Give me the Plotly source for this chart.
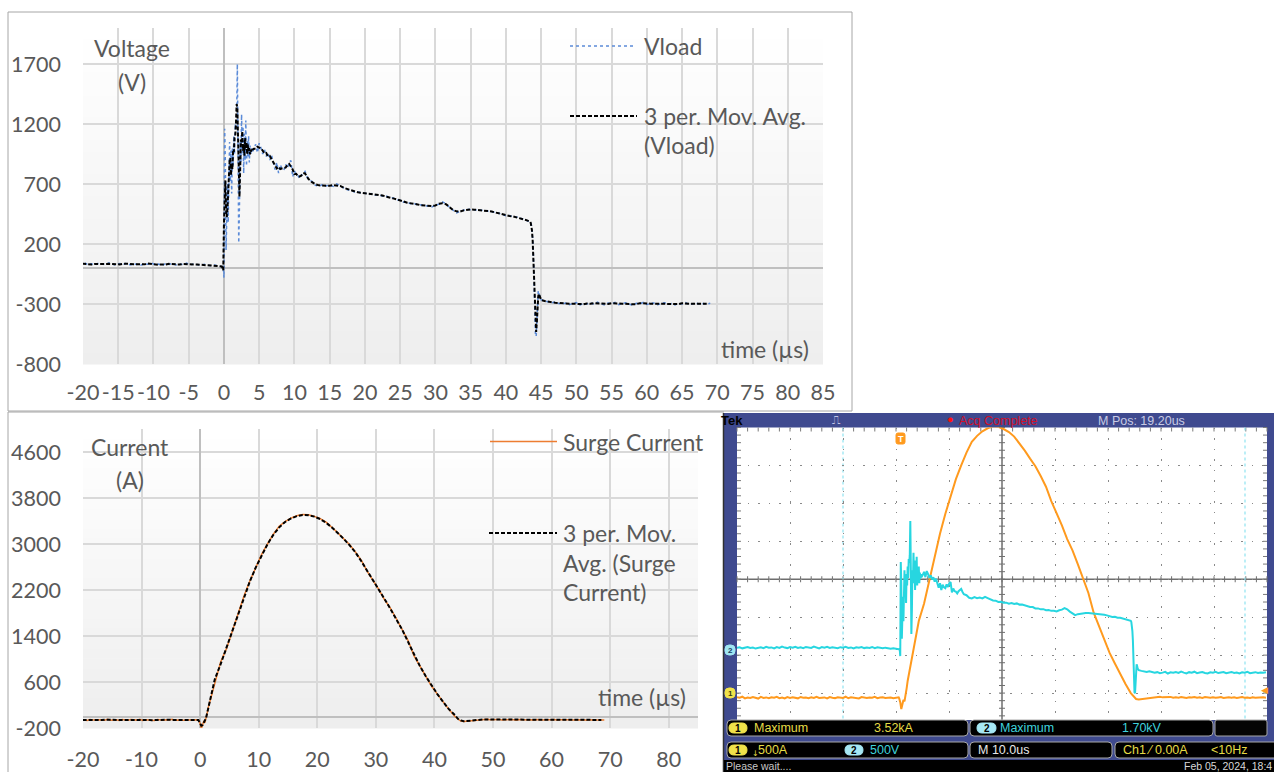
import numpy as np
import pandas as pd
import plotly.graph_objects as go

W, H = 1274, 772

# ------------------------------------------------------------------ data
vload_seg_start = [-30.8, -0.1, 4.25, 12.5, 43.6, 45.5]
vload_seg_step = [0.5, 0.1, 0.25, 0.5, 0.1, 0.5]
vload_pre = [28, 35, 22, 31, 40, 26, 33, 19, 30, 37,
             24, 41, 29, 34, 21, 38, 27, 45, 32, 25,
             39, 30, 43, 28, 36, 24, 40, 31, 27, 44,
             33, 22, 38, 29, 41, 26, 35, 30, 23, 37,
             31, 42, 27, 34, 20, 36, 29, 39, 25, 33,
             28, 40, 24, 35, 30, 22, 31, 26, 18, 24,
             14, 10]
vload_surge = [15, -80, 1160, 880, 150, 420, 700, 380, 900, 1050,
               720, 980, 620, 1000, 850, 1100, 950, 1200, 1150, 1250,
               1700, 1050, 210, 520, 1050, 880, 1280, 960, 1180, 790,
               1120, 900, 1230, 850, 1060, 930, 1100, 880, 1020, 940,
               1000, 960]
vload_decay = [990, 1030, 960, 1040, 1000, 950, 985, 930, 960, 900,
               940, 870, 820, 880, 790, 860, 825, 815, 865, 830,
               880, 895, 760, 810, 775, 770, 745, 775, 795, 805,
               765, 735]
vload_plateau = [722, 688, 680, 698, 684, 692, 680, 700, 684, 668,
                 652, 650, 634, 636, 622, 624, 610, 620, 606, 614,
                 598, 600, 588, 584, 568, 566, 548, 548, 536, 538,
                 524, 526, 516, 518, 508, 524, 532, 552, 536, 506,
                 484, 460, 472, 478, 490, 486, 488, 484, 482, 478,
                 478, 468, 464, 456, 444, 436, 438, 426, 426, 416,
                 410, 398, 384]
vload_fall = [370, 330, 250, 120, -150, -400, -560, -570, -470, -300,
              -190, -210, -245, -258, -265]
vload_post = [-275, -285, -290, -282, -296, -300, -292, -305, -298, -288,
              -310, -295, -300, -290, -303, -285, -298, -308, -292, -300,
              -286, -305, -296, -290, -302, -310, -294, -299, -287, -304,
              -296, -291, -306, -300, -289, -302, -297, -308, -293, -300,
              -288, -305, -298, -292, -303, -296, -301, -294]

# Surge current (A)
current_seg_start = [-30.8, -0.2, 2.5, 44.0]
current_seg_step = [0.5, 0.2, 1.0, 0.5]
current_pre = [-55, -62, -48, -70, -58, -65, -52, -60, -72, -50,
               -63, -57, -68, -54, -61, -49, -66, -59, -71, -53,
               -64, -56, -60, -69, -51, -62, -58, -67, -55, -63,
               -50, -65, -60, -57, -70, -52, -61, -66, -54, -59,
               -63, -48, -68, -56, -62, -58, -71, -53, -60, -65,
               -57, -62, -50, -66, -59, -55, -64, -61, -58, -67,
               -60, -56]
current_onset = [-70, -120, -210, -150, -90, -110, -40, 60, 160, 240, 300, 390]
current_pulse = [600, 950, 1180, 1480, 1820, 2100, 2360, 2600, 2820, 3000,
                 3170, 3310, 3390, 3450, 3490, 3515, 3508, 3480, 3440, 3380,
                 3290, 3195, 3090, 2990, 2860, 2720, 2530, 2380, 2210, 2030,
                 1880, 1700, 1510, 1320, 1060, 880, 700, 530, 390, 250,
                 120, 0]
current_post = [-40, -78, -85, -80, -72, -66, -60, -55, -50, -52,
                -48, -56, -53, -58, -50, -62, -55, -60, -52, -57,
                -63, -54, -59, -51, -61, -56, -64, -53, -58, -60,
                -55, -62, -57, -52, -65, -58, -54, -61, -56, -63,
                -59, -53, -60, -57, -64, -55, -61, -58, -62, -56,
                -60]

# tick labels
volt_ticks = [-800, -300, 200, 700, 1200, 1700]
volt_time_ticks = list(range(-20, 90, 5))
curr_ticks = [-200, 600, 1400, 2200, 3000, 3800, 4600]
curr_time_ticks = list(range(-20, 90, 10))


def build(starts, steps, segments):
    t, v = [], []
    for s, d, vals in zip(starts, steps, segments):
        t.extend(round(s + d * k, 3) for k in range(len(vals)))
        v.extend(vals)
    return np.array(t), np.array(v, dtype=float)


t_v, vload = build(vload_seg_start, vload_seg_step,
                   [vload_pre, vload_surge, vload_decay, vload_plateau, vload_fall, vload_post])
t_i, current = build(current_seg_start, current_seg_step,
                     [current_pre, current_onset, current_pulse, current_post])
# 3-period moving averages (centred, so the coarse sampling does not shift the curve)
vload_ma = pd.Series(vload).rolling(3, center=True).mean().to_numpy()
current_ma = pd.Series(current).rolling(3, center=True).mean().to_numpy()

# ------------------------------------------------------------------ helpers
XF = "Lato"
GREY = "#595959"
SF = "Liberation Sans"
TICK_SIZE = 21.5
TITLE_SIZE = 23


def px(x):
    return x / W


def py(y):
    return 1 - y / H


shapes, annotations = [], []


def rect(x0, y0, x1, y1, fill, line_color=None, lw=0, layer="below"):
    shapes.append(dict(type="rect", xref="paper", yref="paper",
                       x0=px(x0), x1=px(x1), y0=py(y1), y1=py(y0),
                       fillcolor=fill, line=dict(color=line_color or fill, width=lw), layer=layer))


def line(x0, y0, x1, y1, color, width=1, dash="solid", layer="above"):
    shapes.append(dict(type="line", xref="paper", yref="paper",
                       x0=px(x0), x1=px(x1), y0=py(y0), y1=py(y1),
                       line=dict(color=color, width=width, dash=dash), layer=layer))


def rrect(x0, y0, x1, y1, r, fill, line_color, lw=1, layer="above"):
    X, Y = px, py
    p = (f"M {X(x0 + r)},{Y(y0)} L {X(x1 - r)},{Y(y0)} Q {X(x1)},{Y(y0)} {X(x1)},{Y(y0 + r)} "
         f"L {X(x1)},{Y(y1 - r)} Q {X(x1)},{Y(y1)} {X(x1 - r)},{Y(y1)} L {X(x0 + r)},{Y(y1)} "
         f"Q {X(x0)},{Y(y1)} {X(x0)},{Y(y1 - r)} L {X(x0)},{Y(y0 + r)} Q {X(x0)},{Y(y0)} {X(x0 + r)},{Y(y0)} Z")
    shapes.append(dict(type="path", xref="paper", yref="paper", path=p, fillcolor=fill,
                       line=dict(color=line_color, width=lw), layer=layer))


def text(s, x, y, size, color, family=XF, xanchor="left", yanchor="middle", weight="normal"):
    annotations.append(dict(text=s, x=px(x), y=py(y), xref="paper", yref="paper", showarrow=False,
                            xanchor=xanchor, yanchor=yanchor, borderpad=0,
                            font=dict(size=size, color=color, family=family, weight=weight)))


# ------------------------------------------------------------------ excel-style frames
TOP = dict(x0=83, x1=823, y0=28, y1=364)
BOT = dict(x0=83, x1=698, y0=429, y1=728)
N = 30
for box in (TOP, BOT):
    hgt = box["y1"] - box["y0"]
    for k in range(N):
        c = int(round(255 - 17 * (k + 0.5) / N))
        rect(box["x0"], box["y0"] + hgt * k / N, box["x1"], box["y0"] + hgt * (k + 1) / N + 0.6,
             f"rgb({c},{c},{c})")

# chart borders
rect(8, 12, 852, 411, "rgba(0,0,0,0)", "#a6a6a6", 1)
line(8, 412, 724, 412, "#a6a6a6", 1)
line(8, 412, 8, 772, "#a6a6a6", 1)

# top chart texts
text("Voltage", 132, 48, TITLE_SIZE, GREY, xanchor="center")
text("(V)", 132, 82, TITLE_SIZE, GREY, xanchor="center")
text("time (µs)", 765, 349, TITLE_SIZE, GREY, xanchor="center")
line(570, 46, 636, 46, "#5b8bd8", 1.5, "dot")
text("Vload", 643, 46, TITLE_SIZE, GREY)
line(570, 116, 637, 116, "black", 2, "4px,2px")
text("3 per. Mov. Avg.", 643, 116, TITLE_SIZE, GREY)
text("(Vload)", 643, 145, TITLE_SIZE, GREY)

# bottom chart texts
text("Current", 130, 447, TITLE_SIZE, GREY, xanchor="center")
text("(A)", 130, 480, TITLE_SIZE, GREY, xanchor="center")
text("time (µs)", 642, 697, TITLE_SIZE, GREY, xanchor="center")
line(490, 441.5, 557, 441.5, "#ED7D31", 1.5)
text("Surge Current", 562, 441.5, TITLE_SIZE, GREY)
line(489, 533, 557, 533, "black", 2, "4px,2px")
text("3 per. Mov.", 562, 533, TITLE_SIZE, GREY)
text("Avg. (Surge", 562, 563, TITLE_SIZE, GREY)
text("Current)", 562, 592, TITLE_SIZE, GREY)

# ------------------------------------------------------------------ oscilloscope screen
GX0, GX1, GY0, GY1 = 737, 1267, 427.5, 720
CX, CY = 1002, 579.25
DIVX, DIVY = 53.0, 37.94
BLUE = "#3f4a8f"
rect(724, 413, 1274, 772, BLUE)
rect(GX0, GY0, GX1, GY1, "white")
line(723.5, 413, 723.5, 772, "#303030", 1.5, layer="below")
# centre cross with minor ticks
line(CX, GY0, CX, GY1, "#6e6e6e", 1.5, layer="below")
line(GX0, CY, GX1, CY, "#6e6e6e", 1.5, layer="below")
for k in range(51):
    x = GX0 + k * DIVX / 5
    line(x, CY - 3, x, CY + 3, "#6e6e6e", 1, layer="below")
    line(x, GY0, x, GY0 + 4, "#7a7a7a", 1, layer="below")
for k in range(40):
    y = GY0 + k * DIVY / 5
    if y > GY1:
        break
    line(CX - 3, y, CX + 3, y, "#6e6e6e", 1, layer="below")
    line(GX0, y, GX0 + 4, y, "#7a7a7a", 1, layer="below")
    line(GX1 - 4, y, GX1, y, "#7a7a7a", 1, layer="below")
# cursor lines
for x in (843, 1245):
    line(x, GY0, x, 736, "#8fe3f0", 1.2, "dot", layer="below")

# top bar
text("Tek", 744, 420, 13, "black", SF, xanchor="right", weight="bold")
text("⎍", 836, 420, 12, "#c0c4e6", "DejaVu Sans", xanchor="center")
text("●", 951, 419, 11, "#ff1010", SF, xanchor="center")
text("Acq Complete", 958, 420.5, 12.5, "#d0102a", SF)
text("M Pos: 19.20us", 1097, 420.5, 12.5, "#c8cbe4", SF)

# markers on the screen
rrect(896, 433, 905, 444, 2, "#ff9a1e", "#ff9a1e", 1)
text("T", 900.5, 438.5, 9, "white", SF, xanchor="center", weight="bold")
rrect(725, 645, 735, 655, 4, "#9fe6f2", "#9fe6f2", 1)
text("2", 730, 650, 8, "#1a3a60", SF, xanchor="center", weight="bold")
rrect(725, 688, 735, 698, 4, "#f0e24a", "#f0e24a", 1)
text("1", 730, 693, 8, "#3a3a10", SF, xanchor="center", weight="bold")
text("◀", 1264, 690, 9, "#ff9a1e", "DejaVu Sans", xanchor="center")

# readouts
YEL, CYN = "#e6dc46", "#3fd2dc"
rrect(727, 720, 968, 736, 4, "black", "#a8a8a8", 1)
rrect(970, 720, 1213, 736, 4, "black", "#a8a8a8", 1)
rrect(1215, 720, 1267, 736, 2, "#050505", "#a8a8a8", 1)
rrect(727, 742, 968, 758, 4, "black", "#a8a8a8", 1)
rrect(970, 742, 1112, 758, 4, "black", "#a8a8a8", 1)
rrect(1115, 742, 1280, 758, 4, "black", "#a8a8a8", 1)
rect(724, 760, 1274, 772, "black", layer="above")

rrect(729, 723, 747, 733, 5, "#f0e24a", "#f0e24a", 1)
text("1", 738, 728, 10, "black", SF, xanchor="center", weight="bold")
text("Maximum", 753, 728, 12.5, YEL, SF)
text("3.52kA", 873, 728, 12.5, YEL, SF)
rrect(977, 723, 996, 733, 5, "#a6e8f4", "#a6e8f4", 1)
text("2", 986.5, 728, 10, "black", SF, xanchor="center", weight="bold")
text("Maximum", 999, 728, 12.5, CYN, SF)
text("1.70kV", 1121, 728, 12.5, CYN, SF)

rrect(729, 745, 747, 755, 5, "#f0e24a", "#f0e24a", 1)
text("1", 738, 750, 10, "black", SF, xanchor="center", weight="bold")
text("↓", 755, 753, 8, YEL, "DejaVu Sans", xanchor="center")
text("500A", 757, 750, 12.5, YEL, SF)
rrect(845, 745, 863, 755, 5, "#a6e8f4", "#a6e8f4", 1)
text("2", 854, 750, 10, "black", SF, xanchor="center", weight="bold")
text("500V", 869, 750, 12.5, CYN, SF)
text("M 10.0us", 977, 750, 12.5, "#e8e8e8", SF)
text("Ch1 ⁄ 0.00A", 1122, 750, 12.5, YEL, SF)
text("<10Hz", 1210, 750, 12.5, YEL, SF)
text("Please wait....", 725, 766, 10.5, "#c8c8c8", SF)
text("Feb 05, 2024, 18:4", 1273, 766, 10.5, "#d8d8d8", SF, xanchor="right")

# ------------------------------------------------------------------ traces
fig = go.Figure()
fig.add_trace(go.Scatter(x=t_v, y=vload, mode="lines", name="Vload",
                         line=dict(color="#5b8bd8", width=1.5, dash="dot"), xaxis="x", yaxis="y"))
fig.add_trace(go.Scatter(x=t_v, y=vload_ma, mode="lines", name="3 per. Mov. Avg. (Vload)",
                         line=dict(color="black", width=2, dash="4px,2px"), xaxis="x", yaxis="y"))
fig.add_trace(go.Scatter(x=t_i, y=current, mode="lines", name="Surge Current",
                         line=dict(color="#ED7D31", width=1.5), xaxis="x2", yaxis="y2"))
fig.add_trace(go.Scatter(x=t_i, y=current_ma, mode="lines", name="3 per. Mov. Avg. (Surge Current)",
                         line=dict(color="black", width=2, dash="4px,2px"), xaxis="x2", yaxis="y2"))
# oscilloscope channels
fig.add_trace(go.Scatter(x=t_v, y=vload, mode="lines", name="Ch2 500V",
                         line=dict(color="#27d6e0", width=2), xaxis="x3", yaxis="y4"))
fig.add_trace(go.Scatter(x=t_i, y=current, mode="lines", name="Ch1 500A",
                         line=dict(color="#ff9a1e", width=2), xaxis="x3", yaxis="y3"))

tickfont = dict(family=XF, size=TICK_SIZE, color=GREY)
grid = dict(showgrid=True, gridcolor="#d9d9d9", gridwidth=1.5, showline=False, ticks="",
            zeroline=True, zerolinecolor="#bfbfbf", zerolinewidth=2, fixedrange=True,
            tickfont=tickfont, automargin=False)
scope_grid = dict(showgrid=True, gridcolor="#8a8a8a", gridwidth=1.2, griddash="1.5px,9px",
                  showticklabels=False, ticks="", zeroline=False, showline=False, fixedrange=True,
                  automargin=False)

fig.update_layout(
    width=W, height=H, autosize=False, margin=dict(l=0, r=0, t=0, b=0, pad=0),
    paper_bgcolor="white", plot_bgcolor="rgba(0,0,0,0)", showlegend=False,
    xaxis=dict(domain=[px(TOP["x0"]), px(TOP["x1"])], range=[-20, 85], anchor="y",
               tickvals=volt_time_ticks, ticktext=[str(v) for v in volt_time_ticks],
               tickangle=0, ticklabelstandoff=13, **grid),
    yaxis=dict(domain=[py(TOP["y1"]), py(TOP["y0"])], range=[-800, 2000], anchor="x",
               tickvals=volt_ticks, ticktext=[str(v) for v in volt_ticks],
               ticklabelstandoff=21, **grid),
    xaxis2=dict(domain=[px(BOT["x0"]), px(BOT["x1"])], range=[-20, 85], anchor="y2",
                tickvals=curr_time_ticks, ticktext=[str(v) for v in curr_time_ticks],
                tickangle=0, ticklabelstandoff=16, **grid),
    yaxis2=dict(domain=[py(BOT["y1"]), py(BOT["y0"])], range=[-200, 5000], anchor="x2",
                tickvals=curr_ticks, ticktext=[str(v) for v in curr_ticks],
                ticklabelstandoff=21, **grid),
    xaxis3=dict(domain=[px(GX0), px(GX1)], range=[-30.8, 69.2], anchor="y3",
                tick0=-30.8, dtick=10, **scope_grid),
    yaxis3=dict(domain=[py(GY1), py(GY0)], range=[-(GY1 - 693.1) * 500 / DIVY, 3500], anchor="x3",
                tick0=0, dtick=500, **scope_grid),
    yaxis4=dict(domain=[py(GY1), py(GY0)], overlaying="y3", anchor="x3",
                range=[-(GY1 - 650) * 500 / DIVY, (650 - GY0) * 500 / DIVY],
                showgrid=False, showticklabels=False, zeroline=False, showline=False,
                fixedrange=True, automargin=False),
    shapes=shapes, annotations=annotations,
)

fig.write_html("out.html", config={"displayModeBar": False},
               post_script="document.body.style.margin='0';document.body.style.overflow='hidden';")
